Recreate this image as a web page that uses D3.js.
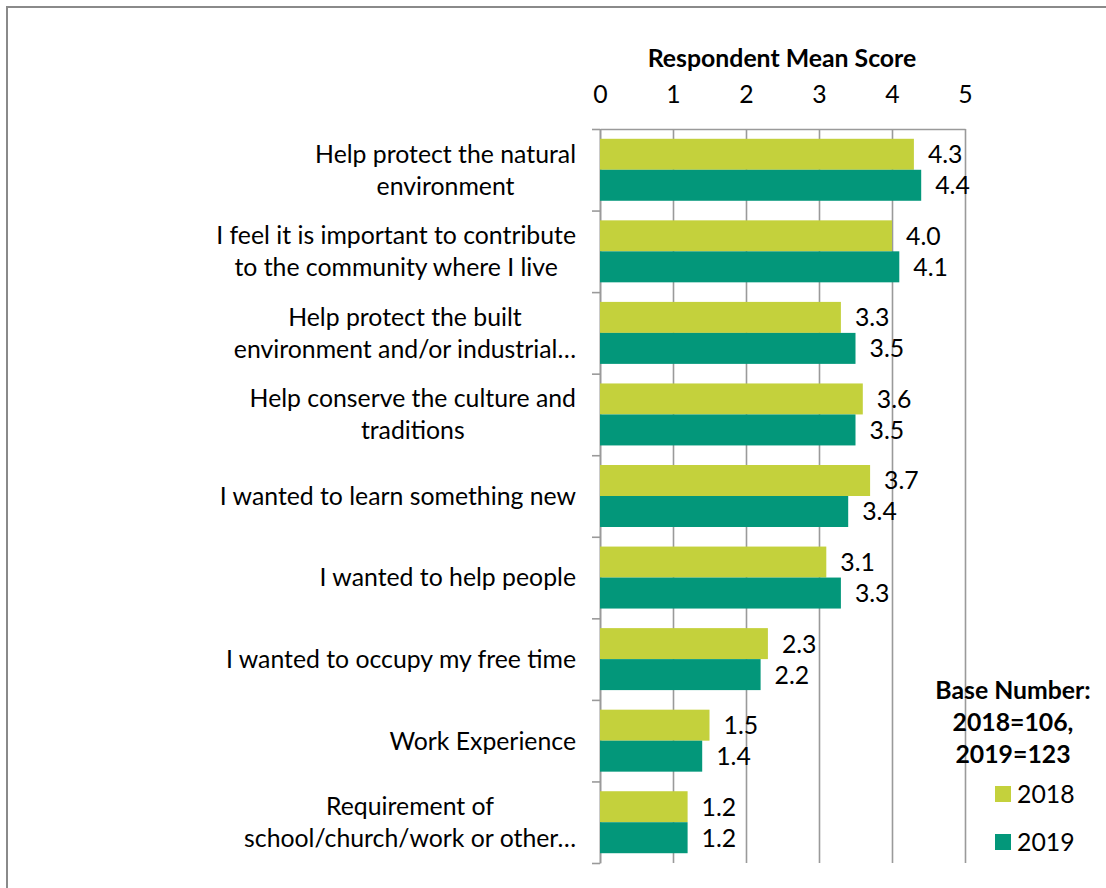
<!DOCTYPE html>
<html>
<head>
<meta charset="utf-8">
<script src="https://cdn.jsdelivr.net/npm/d3@7"></script>
<style>
  body { margin: 0; background: #fff; }
  text { font-family: Lato, "Open Sans", sans-serif; fill: #000; }
</style>
</head>
<body>
<script>
// category labels, one entry per line as they wrap in the chart
var categories = [
  ["Help protect the natural", "environment"],
  ["I feel it is important to contribute", "to the community where I live"],
  ["Help protect the built", "environment and/or industrial\u2026"],
  ["Help conserve the culture and", "traditions"],
  ["I wanted to learn something new"],
  ["I wanted to help people"],
  ["I wanted to occupy my free time"],
  ["Work Experience"],
  ["Requirement of", "school/church/work or other\u2026"]
];
var values2018 = [4.3, 4.0, 3.3, 3.6, 3.7, 3.1, 2.3, 1.5, 1.2];
var values2019 = [4.4, 4.1, 3.5, 3.5, 3.4, 3.3, 2.2, 1.4, 1.2];
var years = ["2018", "2019"];
var xTicks = [0, 1, 2, 3, 4, 5];
var axisTitle = "Respondent Mean Score";
var baseNote = ["Base Number:", "2018=106,", "2019=123"];

var width = 1106, height = 888;
var fs = 24.8;
var colors = { "2018": "#c4d13c", "2019": "#03977a" };
var gridColor = "#9a9a9a";

var svg = d3.select('body').append('svg').attr('width', width).attr('height', height);

// outer frame (only top and left edges are visible)
svg.append('rect').attr('x', 7).attr('y', 7).attr('width', width + 20).attr('height', height + 20)
  .attr('fill', 'none').attr('stroke', '#8a8a8a').attr('stroke-width', 2);

var x = d3.scaleLinear().domain([0, 5]).range([600, 965]);
var yEdge = d3.scaleLinear().domain([0, categories.length]).range([129, 863]);
var y = d3.scaleBand().domain(d3.range(categories.length)).range([129, 863])
  .paddingInner(0.24).paddingOuter(0.12);
var yInner = d3.scaleBand().domain(years).range([0, y.bandwidth()]);

// x axis on top, ticks stretched into gridlines
var xAxis = svg.append('g').attr('transform', 'translate(0,129)')
  .call(d3.axisTop(x).tickValues(xTicks).tickFormat(d3.format('d'))
    .tickSizeInner(-(863 - 129)).tickSizeOuter(0).tickPadding(26));
xAxis.selectAll('line, path').attr('stroke', gridColor).attr('stroke-width', 1.6);
xAxis.selectAll('text').attr('font-size', fs).attr('font-family', 'Lato').attr('fill', '#000');

// y axis: tick marks on category boundaries
var yAxis = svg.append('g').attr('transform', 'translate(600,0)')
  .call(d3.axisLeft(yEdge).tickValues(d3.range(categories.length + 1)).tickSizeInner(8).tickSizeOuter(0).tickFormat(''));
yAxis.selectAll('line, path').attr('stroke', gridColor).attr('stroke-width', 1.6);

svg.append('text').text(axisTitle)
  .attr('x', 782).attr('y', 58).attr('dy', '0.36em')
  .attr('text-anchor', 'middle').attr('font-weight', 'bold').attr('font-size', fs);

// bars
var rows = categories.map(function(c, i) {
  return { i: i, vals: [{ year: "2018", v: values2018[i] }, { year: "2019", v: values2019[i] }] };
});
var groups = svg.selectAll('g.cat').data(rows).enter().append('g').attr('class', 'cat')
  .attr('transform', function(d) { return 'translate(0,' + y(d.i) + ')'; });

groups.selectAll('rect').data(function(d) { return d.vals; }).enter().append('rect')
  .attr('x', x(0)).attr('y', function(d) { return yInner(d.year); })
  .attr('width', function(d) { return x(d.v) - x(0); })
  .attr('height', yInner.bandwidth())
  .attr('fill', function(d) { return colors[d.year]; });

groups.selectAll('text.val').data(function(d) { return d.vals; }).enter().append('text').attr('class', 'val')
  .attr('x', function(d) { return x(d.v) + 14; })
  .attr('y', function(d) { return yInner(d.year) + yInner.bandwidth() / 2; })
  .attr('dy', '0.36em').attr('font-size', fs)
  .text(function(d) { return d3.format('.1f')(d.v); });

// category labels: block right-aligned near the axis, lines centred inside it
var labelRight = 576, lineH = 32;
categories.forEach(function(lines, i) {
  var g = svg.append('g');
  var cy = (yEdge(i) + yEdge(i + 1)) / 2;
  var texts = g.selectAll('text').data(lines).enter().append('text')
    .attr('font-size', fs).attr('text-anchor', 'middle').attr('dy', '0.36em')
    .attr('y', function(d, k) { return cy + (k - (lines.length - 1) / 2) * lineH; })
    .text(function(d) { return d; });
  var maxW = d3.max(texts.nodes(), function(n) { return n.getComputedTextLength(); });
  texts.attr('x', labelRight - maxW / 2);
});

// base number note
svg.selectAll('text.note').data(baseNote).enter().append('text').attr('class', 'note')
  .attr('x', 1013).attr('y', function(d, k) { return 690 + k * 32; }).attr('dy', '0.36em')
  .attr('text-anchor', 'middle').attr('font-weight', 'bold').attr('font-size', fs)
  .text(function(d) { return d; });

// legend
var legend = svg.selectAll('g.leg').data(years).enter().append('g').attr('class', 'leg')
  .attr('transform', function(d, k) { return 'translate(995,' + (786 + k * 48) + ')'; });
legend.append('rect').attr('width', 16).attr('height', 16).attr('fill', function(d) { return colors[d]; });
legend.append('text').attr('x', 22).attr('y', 8).attr('dy', '0.36em').attr('font-size', fs)
  .text(function(d) { return d; });
</script>
</body>
</html>
